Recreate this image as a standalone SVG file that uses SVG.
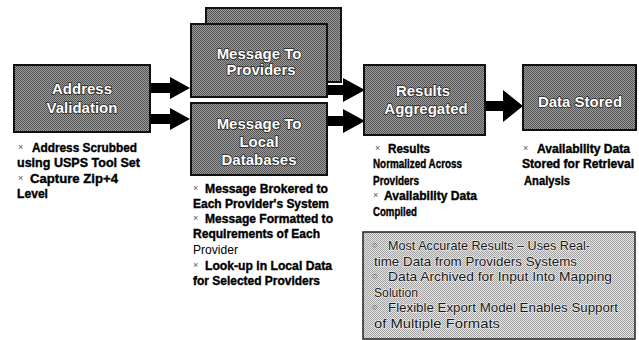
<svg xmlns="http://www.w3.org/2000/svg" width="639" height="340" viewBox="0 0 639 340">
<defs>
<pattern id="ht" width="2" height="2" patternUnits="userSpaceOnUse">
<rect width="2" height="2" fill="#9c9c9c"/>
<rect width="1" height="1" fill="#555"/>
<rect x="1" y="1" width="1" height="1" fill="#555"/>
</pattern>
<pattern id="ht2" width="2" height="2" patternUnits="userSpaceOnUse">
<rect width="2" height="2" fill="#e4e4e4"/>
<rect width="1" height="1" fill="#a2a2a2"/>
<rect x="1" y="1" width="1" height="1" fill="#a2a2a2"/>
</pattern>
</defs>
<style>
.box{fill:url(#ht);stroke:#111;stroke-width:2}
.note{fill:url(#ht2);stroke:#222;stroke-width:1.5}
.title{font-family:"Liberation Sans",Arial,sans-serif;font-weight:bold;font-size:15px;fill:#fff;stroke:#2a2a2a;stroke-width:1.6;paint-order:stroke;text-anchor:middle}
.b{font-family:"Liberation Sans",Arial,sans-serif;font-weight:bold;font-size:13.5px;fill:#000;stroke:#000;stroke-width:0.4}
.bs{font-size:12.5px}
.r{font-family:"Liberation Sans",Arial,sans-serif;font-size:13.5px;fill:#000}
.bul{font-family:"Liberation Sans",Arial,sans-serif;font-size:9px;fill:#555}
.nt{font-family:"Liberation Sans",Arial,sans-serif;font-size:13px;fill:#1a1a1a;stroke:#f4f4f4;stroke-width:1.5;stroke-opacity:0.7;paint-order:stroke}
.nb{font-family:"Liberation Sans",Arial,sans-serif;font-size:9px;fill:#555}
.arrow{fill:#000}
</style>

<g id="connectors">
<polygon class="arrow" points="150,83 170,83 170,77 190,88 170,99 170,93 150,93"/>
<polygon class="arrow" points="150,114 170,114 170,108 190,119 170,130 170,124 150,124"/>
<polygon class="arrow" points="327,85 343,85 343,78 365,90 343,102 343,95 327,95"/>
<polygon class="arrow" points="327,116 343,116 343,109 365,121 343,133 343,126 327,126"/>
<polygon class="arrow" points="485,101 503,101 503,90 523,106 503,122 503,111 485,111"/>
</g>

<g id="address-validation">
<rect class="box" x="14" y="65" width="136" height="67"/>
<text class="title" x="82" y="94">Address</text>
<text class="title" x="82" y="113">Validation</text>
<text class="bul" x="18" y="150">×</text>
<text class="b" x="32" y="152" textLength="105" lengthAdjust="spacingAndGlyphs">Address Scrubbed</text>
<text class="b" x="17" y="167" textLength="123" lengthAdjust="spacingAndGlyphs">using USPS Tool Set</text>
<text class="bul" x="18" y="181">×</text>
<text class="b" x="30" y="183" textLength="88" lengthAdjust="spacingAndGlyphs">Capture Zip+4</text>
<text class="b" x="17" y="198" textLength="31" lengthAdjust="spacingAndGlyphs">Level</text>
</g>

<g id="message-to-providers">
<rect class="box" x="206" y="8" width="135" height="74"/>
<rect class="box" x="191" y="24" width="136" height="73"/>
<text class="title" x="259" y="59">Message To</text>
<text class="title" x="261" y="75">Providers</text>
</g>

<g id="message-to-local-databases">
<rect class="box" x="191" y="103" width="136" height="72"/>
<text class="title" x="259" y="129">Message To</text>
<text class="title" x="259" y="147">Local</text>
<text class="title" x="259" y="165">Databases</text>
<text class="bul" x="193" y="191">×</text>
<text class="b" x="205" y="193" textLength="123" lengthAdjust="spacingAndGlyphs">Message Brokered to</text>
<text class="b" x="193" y="208" textLength="136" lengthAdjust="spacingAndGlyphs">Each Provider's System</text>
<text class="bul" x="193" y="221">×</text>
<text class="b" x="205" y="223" textLength="128" lengthAdjust="spacingAndGlyphs">Message Formatted to</text>
<text class="b" x="193" y="238" textLength="127" lengthAdjust="spacingAndGlyphs">Requirements of Each</text>
<text class="r" x="193" y="254" textLength="45" lengthAdjust="spacingAndGlyphs">Provider</text>
<text class="bul" x="193" y="268">×</text>
<text class="b" x="205" y="270" textLength="127" lengthAdjust="spacingAndGlyphs">Look-up in Local Data</text>
<text class="b" x="193" y="285" textLength="127" lengthAdjust="spacingAndGlyphs">for Selected Providers</text>
</g>

<g id="results-aggregated">
<rect class="box" x="364" y="65" width="121" height="70"/>
<text class="title" x="423" y="96">Results</text>
<text class="title" x="426" y="114">Aggregated</text>
<text class="bul" x="375" y="151">×</text>
<text class="b" x="388" y="153" textLength="42" lengthAdjust="spacingAndGlyphs">Results</text>
<text class="b" x="373" y="168" textLength="89" lengthAdjust="spacingAndGlyphs">Normalized Across</text>
<text class="b" x="373" y="185" textLength="46" lengthAdjust="spacingAndGlyphs">Providers</text>
<text class="bul" x="373" y="198">×</text>
<text class="b" x="384" y="200" textLength="93" lengthAdjust="spacingAndGlyphs">Availability Data</text>
<text class="b" x="373" y="216" textLength="44" lengthAdjust="spacingAndGlyphs">Compiled</text>
</g>

<g id="data-stored">
<rect class="box" x="523" y="65" width="113" height="65"/>
<text class="title" x="580" y="107">Data Stored</text>
<text class="bul" x="523" y="151">×</text>
<text class="b bs" x="537" y="153" textLength="93" lengthAdjust="spacingAndGlyphs">Availability Data</text>
<text class="b bs" x="522" y="168" textLength="112" lengthAdjust="spacingAndGlyphs">Stored for Retrieval</text>
<text class="b" x="524" y="185" textLength="46" lengthAdjust="spacingAndGlyphs">Analysis</text>
</g>

<g id="benefits">
<rect class="note" x="363" y="232" width="272" height="107"/>
<text class="nb" x="372" y="248">○</text>
<text class="nt" x="388" y="250" textLength="202" lengthAdjust="spacingAndGlyphs">Most Accurate Results – Uses Real-</text>
<text class="nt" x="374" y="265.5" textLength="203" lengthAdjust="spacingAndGlyphs">time Data from Providers Systems</text>
<text class="nb" x="372" y="279">○</text>
<text class="nt" x="388" y="281" textLength="224" lengthAdjust="spacingAndGlyphs">Data Archived for Input Into Mapping</text>
<text class="nt" x="374" y="296.5" textLength="44" lengthAdjust="spacingAndGlyphs">Solution</text>
<text class="nb" x="372" y="310">○</text>
<text class="nt" x="388" y="312" textLength="230" lengthAdjust="spacingAndGlyphs">Flexible Export Model Enables Support</text>
<text class="nt" x="374" y="327.5" textLength="126" lengthAdjust="spacingAndGlyphs">of Multiple Formats</text>
</g>
</svg>
